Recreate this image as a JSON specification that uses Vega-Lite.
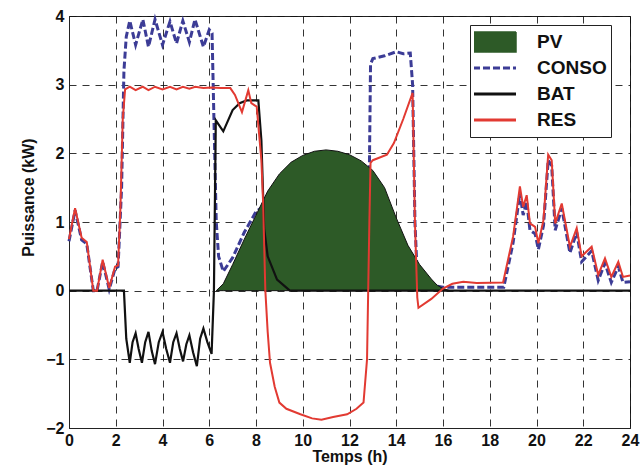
{
  "$schema": "https://vega.github.io/schema/vega-lite/v6.json",
  "width": 561,
  "height": 412,
  "autosize": {"type": "none"},
  "padding": {"left": 69, "top": 16, "right": 11, "bottom": 39},
  "background": "white",
  "config": {
    "view": {"stroke": "#222", "strokeWidth": 1},
    "font": "Liberation Sans",
    "axis": {
      "labelFont": "Liberation Sans", "labelFontWeight": "bold", "labelFontSize": 16, "labelColor": "#111",
      "titleFont": "Liberation Sans", "titleFontWeight": "bold", "titleFontSize": 16, "titleColor": "#111",
      "domainColor": "#222", "ticks": false,
      "grid": true, "gridColor": "#111", "gridDash": [7, 6], "gridWidth": 1, "gridOpacity": 0.85
    }
  },
  "data": {"values": [
    {"t": 6.3, "serie": "PV", "v": 0}, {"t": 6.6, "serie": "PV", "v": 0.1}, {"t": 7.0, "serie": "PV", "v": 0.38},
    {"t": 7.5, "serie": "PV", "v": 0.75}, {"t": 8.0, "serie": "PV", "v": 1.1}, {"t": 8.5, "serie": "PV", "v": 1.45},
    {"t": 9.0, "serie": "PV", "v": 1.7}, {"t": 9.5, "serie": "PV", "v": 1.87}, {"t": 10.0, "serie": "PV", "v": 1.97},
    {"t": 10.5, "serie": "PV", "v": 2.03}, {"t": 11.0, "serie": "PV", "v": 2.05}, {"t": 11.5, "serie": "PV", "v": 2.03},
    {"t": 12.0, "serie": "PV", "v": 1.98}, {"t": 12.5, "serie": "PV", "v": 1.89}, {"t": 13.0, "serie": "PV", "v": 1.75},
    {"t": 13.5, "serie": "PV", "v": 1.5}, {"t": 14.0, "serie": "PV", "v": 1.06}, {"t": 14.5, "serie": "PV", "v": 0.66},
    {"t": 15.0, "serie": "PV", "v": 0.38}, {"t": 15.5, "serie": "PV", "v": 0.17}, {"t": 15.75, "serie": "PV", "v": 0.08},
    {"t": 16.0, "serie": "PV", "v": 0.03}, {"t": 16.3, "serie": "PV", "v": 0},

    {"t": 0, "serie": "CONSO", "v": 0.72}, {"t": 0.26, "serie": "CONSO", "v": 1.17}, {"t": 0.54, "serie": "CONSO", "v": 0.74},
    {"t": 0.76, "serie": "CONSO", "v": 0.68}, {"t": 1.04, "serie": "CONSO", "v": 0}, {"t": 1.2, "serie": "CONSO", "v": 0},
    {"t": 1.44, "serie": "CONSO", "v": 0.42}, {"t": 1.72, "serie": "CONSO", "v": 0.02}, {"t": 1.97, "serie": "CONSO", "v": 0.32},
    {"t": 2.1, "serie": "CONSO", "v": 0.35}, {"t": 2.25, "serie": "CONSO", "v": 1.5}, {"t": 2.35, "serie": "CONSO", "v": 3.2},
    {"t": 2.45, "serie": "CONSO", "v": 3.7}, {"t": 2.6, "serie": "CONSO", "v": 3.93}, {"t": 2.85, "serie": "CONSO", "v": 3.58},
    {"t": 3.16, "serie": "CONSO", "v": 3.95}, {"t": 3.4, "serie": "CONSO", "v": 3.55}, {"t": 3.68, "serie": "CONSO", "v": 3.95},
    {"t": 4.0, "serie": "CONSO", "v": 3.58}, {"t": 4.32, "serie": "CONSO", "v": 3.92}, {"t": 4.6, "serie": "CONSO", "v": 3.6},
    {"t": 4.87, "serie": "CONSO", "v": 3.93}, {"t": 5.15, "serie": "CONSO", "v": 3.62}, {"t": 5.39, "serie": "CONSO", "v": 3.95},
    {"t": 5.75, "serie": "CONSO", "v": 3.55}, {"t": 6.0, "serie": "CONSO", "v": 3.8}, {"t": 6.12, "serie": "CONSO", "v": 3.75},
    {"t": 6.2, "serie": "CONSO", "v": 2.5}, {"t": 6.3, "serie": "CONSO", "v": 1.0}, {"t": 6.4, "serie": "CONSO", "v": 0.5},
    {"t": 6.6, "serie": "CONSO", "v": 0.28}, {"t": 7.0, "serie": "CONSO", "v": 0.48}, {"t": 7.5, "serie": "CONSO", "v": 0.85},
    {"t": 8.0, "serie": "CONSO", "v": 1.15}, {"t": 8.2, "serie": "CONSO", "v": 1.2}, {"t": 8.4, "serie": "CONSO", "v": 0.6},
    {"t": 8.6, "serie": "CONSO", "v": 0.12}, {"t": 9.0, "serie": "CONSO", "v": 0.06}, {"t": 10.0, "serie": "CONSO", "v": 0.05},
    {"t": 12.7, "serie": "CONSO", "v": 0.05}, {"t": 12.8, "serie": "CONSO", "v": 0.2}, {"t": 12.9, "serie": "CONSO", "v": 3.3},
    {"t": 13.0, "serie": "CONSO", "v": 3.38}, {"t": 13.5, "serie": "CONSO", "v": 3.42}, {"t": 14.0, "serie": "CONSO", "v": 3.48},
    {"t": 14.3, "serie": "CONSO", "v": 3.45}, {"t": 14.6, "serie": "CONSO", "v": 3.46}, {"t": 14.7, "serie": "CONSO", "v": 3.0},
    {"t": 14.8, "serie": "CONSO", "v": 1.0}, {"t": 14.9, "serie": "CONSO", "v": 0.2}, {"t": 15.2, "serie": "CONSO", "v": 0.1},
    {"t": 16.0, "serie": "CONSO", "v": 0.05}, {"t": 18.6, "serie": "CONSO", "v": 0.05}, {"t": 19.0, "serie": "CONSO", "v": 0.7},
    {"t": 19.29, "serie": "CONSO", "v": 1.42}, {"t": 19.43, "serie": "CONSO", "v": 1.1}, {"t": 19.58, "serie": "CONSO", "v": 1.3},
    {"t": 19.72, "serie": "CONSO", "v": 0.88}, {"t": 19.94, "serie": "CONSO", "v": 0.83}, {"t": 20.08, "serie": "CONSO", "v": 0.6},
    {"t": 20.3, "serie": "CONSO", "v": 0.95}, {"t": 20.5, "serie": "CONSO", "v": 1.9}, {"t": 20.65, "serie": "CONSO", "v": 1.82},
    {"t": 20.8, "serie": "CONSO", "v": 0.88}, {"t": 21.08, "serie": "CONSO", "v": 1.2}, {"t": 21.43, "serie": "CONSO", "v": 0.55},
    {"t": 21.72, "serie": "CONSO", "v": 0.85}, {"t": 21.93, "serie": "CONSO", "v": 0.42}, {"t": 22.36, "serie": "CONSO", "v": 0.58},
    {"t": 22.64, "serie": "CONSO", "v": 0.15}, {"t": 22.93, "serie": "CONSO", "v": 0.4}, {"t": 23.2, "serie": "CONSO", "v": 0.12},
    {"t": 23.5, "serie": "CONSO", "v": 0.35}, {"t": 23.7, "serie": "CONSO", "v": 0.12}, {"t": 24.0, "serie": "CONSO", "v": 0.13},

    {"t": 0, "serie": "BAT", "v": 0}, {"t": 2.35, "serie": "BAT", "v": 0}, {"t": 2.45, "serie": "BAT", "v": -0.7},
    {"t": 2.6, "serie": "BAT", "v": -1.05}, {"t": 2.72, "serie": "BAT", "v": -0.75}, {"t": 2.85, "serie": "BAT", "v": -0.62},
    {"t": 2.98, "serie": "BAT", "v": -0.85}, {"t": 3.12, "serie": "BAT", "v": -1.05}, {"t": 3.26, "serie": "BAT", "v": -0.75},
    {"t": 3.4, "serie": "BAT", "v": -0.6}, {"t": 3.54, "serie": "BAT", "v": -0.88}, {"t": 3.68, "serie": "BAT", "v": -1.07},
    {"t": 3.84, "serie": "BAT", "v": -0.75}, {"t": 4.0, "serie": "BAT", "v": -0.6}, {"t": 4.16, "serie": "BAT", "v": -0.85},
    {"t": 4.32, "serie": "BAT", "v": -1.05}, {"t": 4.46, "serie": "BAT", "v": -0.75}, {"t": 4.6, "serie": "BAT", "v": -0.62},
    {"t": 4.74, "serie": "BAT", "v": -0.85}, {"t": 4.88, "serie": "BAT", "v": -1.03}, {"t": 5.02, "serie": "BAT", "v": -0.78},
    {"t": 5.15, "serie": "BAT", "v": -0.65}, {"t": 5.31, "serie": "BAT", "v": -0.9}, {"t": 5.47, "serie": "BAT", "v": -1.1},
    {"t": 5.61, "serie": "BAT", "v": -0.7}, {"t": 5.75, "serie": "BAT", "v": -0.55}, {"t": 5.92, "serie": "BAT", "v": -0.75},
    {"t": 6.1, "serie": "BAT", "v": -0.92}, {"t": 6.2, "serie": "BAT", "v": 0}, {"t": 6.28, "serie": "BAT", "v": 2.48},
    {"t": 6.6, "serie": "BAT", "v": 2.32}, {"t": 7.0, "serie": "BAT", "v": 2.63}, {"t": 7.3, "serie": "BAT", "v": 2.73},
    {"t": 7.6, "serie": "BAT", "v": 2.77}, {"t": 8.1, "serie": "BAT", "v": 2.77}, {"t": 8.23, "serie": "BAT", "v": 2.19},
    {"t": 8.35, "serie": "BAT", "v": 0.9}, {"t": 8.5, "serie": "BAT", "v": 0.5}, {"t": 8.9, "serie": "BAT", "v": 0.16},
    {"t": 9.45, "serie": "BAT", "v": 0}, {"t": 24.0, "serie": "BAT", "v": 0},

    {"t": 0, "serie": "RES", "v": 0.75}, {"t": 0.26, "serie": "RES", "v": 1.2}, {"t": 0.54, "serie": "RES", "v": 0.77},
    {"t": 0.76, "serie": "RES", "v": 0.71}, {"t": 1.04, "serie": "RES", "v": 0}, {"t": 1.2, "serie": "RES", "v": 0},
    {"t": 1.44, "serie": "RES", "v": 0.45}, {"t": 1.72, "serie": "RES", "v": 0.04}, {"t": 1.97, "serie": "RES", "v": 0.35},
    {"t": 2.1, "serie": "RES", "v": 0.37}, {"t": 2.2, "serie": "RES", "v": 1.2}, {"t": 2.3, "serie": "RES", "v": 2.5},
    {"t": 2.4, "serie": "RES", "v": 2.93}, {"t": 2.6, "serie": "RES", "v": 2.97}, {"t": 2.85, "serie": "RES", "v": 2.92},
    {"t": 3.15, "serie": "RES", "v": 2.97}, {"t": 3.4, "serie": "RES", "v": 2.92}, {"t": 3.68, "serie": "RES", "v": 2.97},
    {"t": 4.0, "serie": "RES", "v": 2.93}, {"t": 4.32, "serie": "RES", "v": 2.97}, {"t": 4.6, "serie": "RES", "v": 2.93},
    {"t": 4.87, "serie": "RES", "v": 2.97}, {"t": 5.15, "serie": "RES", "v": 2.94}, {"t": 5.4, "serie": "RES", "v": 2.97},
    {"t": 5.75, "serie": "RES", "v": 2.95}, {"t": 6.1, "serie": "RES", "v": 2.96}, {"t": 6.5, "serie": "RES", "v": 2.95},
    {"t": 6.9, "serie": "RES", "v": 2.95}, {"t": 7.1, "serie": "RES", "v": 2.85}, {"t": 7.4, "serie": "RES", "v": 2.6},
    {"t": 7.67, "serie": "RES", "v": 2.92}, {"t": 7.8, "serie": "RES", "v": 2.73}, {"t": 8.03, "serie": "RES", "v": 2.68},
    {"t": 8.23, "serie": "RES", "v": 1.9}, {"t": 8.3, "serie": "RES", "v": 1.32}, {"t": 8.4, "serie": "RES", "v": 0},
    {"t": 8.5, "serie": "RES", "v": -0.6}, {"t": 8.6, "serie": "RES", "v": -1.05}, {"t": 8.8, "serie": "RES", "v": -1.4},
    {"t": 9.0, "serie": "RES", "v": -1.63}, {"t": 9.3, "serie": "RES", "v": -1.72}, {"t": 9.9, "serie": "RES", "v": -1.8},
    {"t": 10.4, "serie": "RES", "v": -1.86}, {"t": 10.8, "serie": "RES", "v": -1.88}, {"t": 11.3, "serie": "RES", "v": -1.84},
    {"t": 11.9, "serie": "RES", "v": -1.8}, {"t": 12.3, "serie": "RES", "v": -1.72}, {"t": 12.6, "serie": "RES", "v": -1.63},
    {"t": 12.75, "serie": "RES", "v": -1.0}, {"t": 12.85, "serie": "RES", "v": 1.0}, {"t": 12.9, "serie": "RES", "v": 1.86},
    {"t": 13.0, "serie": "RES", "v": 1.9}, {"t": 13.6, "serie": "RES", "v": 1.98}, {"t": 13.9, "serie": "RES", "v": 2.15},
    {"t": 14.3, "serie": "RES", "v": 2.5}, {"t": 14.7, "serie": "RES", "v": 2.88}, {"t": 14.8, "serie": "RES", "v": 1.0},
    {"t": 14.9, "serie": "RES", "v": -0.1}, {"t": 14.95, "serie": "RES", "v": -0.25}, {"t": 15.5, "serie": "RES", "v": -0.12},
    {"t": 16.0, "serie": "RES", "v": 0.03}, {"t": 16.4, "serie": "RES", "v": 0.1}, {"t": 16.87, "serie": "RES", "v": 0.13},
    {"t": 17.44, "serie": "RES", "v": 0.11}, {"t": 18.57, "serie": "RES", "v": 0.12}, {"t": 19.0, "serie": "RES", "v": 0.79},
    {"t": 19.29, "serie": "RES", "v": 1.52}, {"t": 19.43, "serie": "RES", "v": 1.22}, {"t": 19.58, "serie": "RES", "v": 1.39},
    {"t": 19.72, "serie": "RES", "v": 0.98}, {"t": 19.94, "serie": "RES", "v": 0.93}, {"t": 20.08, "serie": "RES", "v": 0.69},
    {"t": 20.3, "serie": "RES", "v": 1.03}, {"t": 20.5, "serie": "RES", "v": 1.98}, {"t": 20.65, "serie": "RES", "v": 1.9},
    {"t": 20.8, "serie": "RES", "v": 0.98}, {"t": 21.08, "serie": "RES", "v": 1.27}, {"t": 21.43, "serie": "RES", "v": 0.64},
    {"t": 21.72, "serie": "RES", "v": 0.91}, {"t": 21.93, "serie": "RES", "v": 0.5}, {"t": 22.36, "serie": "RES", "v": 0.64},
    {"t": 22.64, "serie": "RES", "v": 0.23}, {"t": 22.93, "serie": "RES", "v": 0.47}, {"t": 23.2, "serie": "RES", "v": 0.2},
    {"t": 23.5, "serie": "RES", "v": 0.42}, {"t": 23.7, "serie": "RES", "v": 0.2}, {"t": 24.0, "serie": "RES", "v": 0.22}
  ]},
  "encoding": {
    "x": {"field": "t", "type": "quantitative",
      "scale": {"domain": [0, 24], "nice": false, "zero": false},
      "axis": {"values": [0, 2, 4, 6, 8, 10, 12, 14, 16, 18, 20, 22, 24], "title": "Temps (h)", "labelPadding": 4, "titlePadding": 0, "labelFlush": false}},
    "y": {"field": "v", "type": "quantitative",
      "scale": {"domain": [-2, 4], "nice": false},
      "axis": {"values": [-2, -1, 0, 1, 2, 3, 4], "title": "Puissance (kW)", "labelPadding": 5,
        "titleX": -41, "titleY": 181, "titleAlign": "center", "titleBaseline": "middle"}},
    "color": {"field": "serie", "type": "nominal",
      "scale": {"domain": ["PV", "CONSO", "BAT", "RES"], "range": ["#2d5a27", "#3c3c96", "#111111", "#e23a32"]},
      "legend": {
        "title": null, "orient": "none", "legendX": 401, "legendY": 9,
        "fillColor": "white", "strokeColor": "#222", "padding": 4,
        "labelFont": "Liberation Sans", "labelFontWeight": "bold", "labelFontSize": 19, "labelColor": "#111",
        "symbolType": "stroke", "symbolSize": 2809, "symbolStrokeWidth": 3, "clipHeight": 26, "rowPadding": 0,
        "symbolOffset": 6, "labelOffset": 38,
        "encode": {"symbols": {"update": {
          "shape": {"signal": "datum.value === 'PV' ? 'M-1,-0.38H1V0.38H-1Z' : 'stroke'"},
          "fill": {"signal": "datum.value === 'PV' ? '#2d5a27' : 'transparent'"},
          "stroke": {"signal": "datum.value === 'PV' ? '#111' : datum.value === 'CONSO' ? '#3c3c96' : datum.value === 'BAT' ? '#111111' : '#e23a32'"},
          "strokeWidth": {"signal": "datum.value === 'PV' ? 1.5 : 3"},
          "strokeDash": {"signal": "datum.value === 'CONSO' ? [7, 3] : [1, 0]"}
        }}}
      }
    }
  },
  "layer": [
    {"transform": [{"filter": "datum.serie === 'CONSO'"}],
     "mark": {"type": "line", "strokeWidth": 3, "strokeDash": [7, 3]}},
    {"transform": [{"filter": "datum.serie === 'PV'"}],
     "mark": {"type": "area", "stroke": "#111", "strokeWidth": 1, "opacity": 1}},
    {"transform": [{"filter": "datum.serie === 'BAT'"}],
     "mark": {"type": "line", "strokeWidth": 2.2}},
    {"transform": [{"filter": "datum.serie === 'RES'"}],
     "mark": {"type": "line", "strokeWidth": 2}}
  ]
}
